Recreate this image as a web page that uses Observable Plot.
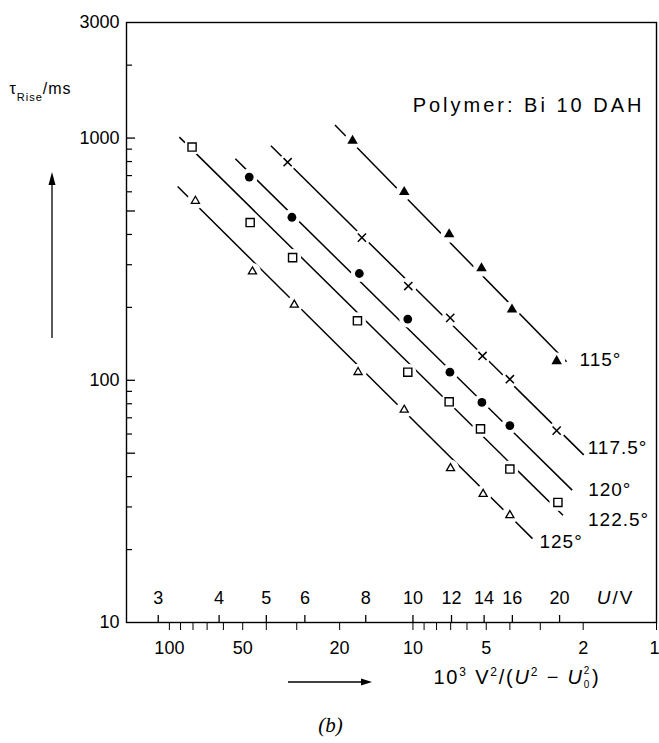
<!DOCTYPE html>
<html><head><meta charset="utf-8">
<script src="https://cdn.jsdelivr.net/npm/d3@7"></script>
<script src="https://cdn.jsdelivr.net/npm/@observablehq/plot@0.6"></script>
<style>
html,body{margin:0;padding:0;background:#fff;}
#chart{width:659px;height:743px;}
</style></head><body><div id="chart"></div>
<script>
// ---------- data ----------
const temps = ["115°", "117.5°", "120°", "122.5°", "125°"];

// x = 10^3 V^2/(U^2 - U0^2), y = tau_rise / ms
const x115 = [17.7, 10.86, 7.10, 5.23, 3.92, 2.57];
const y115 = [975, 599, 401, 290, 196, 120];
const x117 = [32.7, 16.2, 10.45, 7.03, 5.18, 4.0, 2.57];
const y117 = [795, 388, 245, 181, 126, 101, 62];
const x120 = [47.0, 31.4, 16.6, 10.5, 7.05, 5.21, 4.0];
const y120 = [690, 471, 276, 179, 108, 81, 65];
const x122 = [80.7, 46.6, 31.2, 16.9, 10.5, 7.1, 5.28, 4.0, 2.54];
const y122 = [918, 448, 321, 176, 108, 81.5, 63, 43, 31.3];
const x125 = [78.2, 45.6, 30.7, 16.8, 10.86, 7.01, 5.15, 4.0];
const y125 = [550, 281, 205, 108, 75.5, 43.3, 33.9, 27.7];

// fitted straight lines (end points)
const fitXStart = [20.9, 38.3, 53.6, 91.0, 92.5];
const fitYStart = [1132, 929, 821, 1009, 631];
const fitXEnd   = [2.34, 1.99, 2.22, 2.42, 3.23];
const fitYEnd   = [119.3, 49.2, 35.2, 27.7, 22.2];

// axis ticks
const xMajor = [100, 50, 20, 10, 5, 2, 1];
const xMinor = [90, 80, 70, 60, 40, 30, 9, 8, 7, 6, 4, 3];
const yMajor = [10, 50, 100, 500, 1000, 3000];
const yMinor = [20, 30, 40, 60, 70, 80, 90, 200, 300, 400, 600, 700, 800, 900, 2000];
const uTicks = [3, 4, 5, 6, 8, 10, 12, 14, 16, 20];   // U / V, at 10^3/U^2

// ---------- layout / style ----------
const W = 659, H = 743, mL = 126, mR = 3, mT = 22, mB = 121;
const FW = W - mL - mR, FH = H - mT - mB;
const FONT = "Liberation Sans, Arial, sans-serif";
const labelOffsets = [[13, -2], [4, -7], [16, 0], [25, 5], [7, 3]];

const markerStyles = [
  {symbol: "triangle", r: 3.9, fill: "black", stroke: "none"},
  {symbol: "times", r: 3.8, fill: "none", stroke: "black", strokeWidth: 1.5},
  {symbol: "circle", r: 4.4, fill: "black", stroke: "none"},
  {symbol: "square", r: 4.6, fill: "white", stroke: "black", strokeWidth: 1.4},
  {symbol: "triangle", r: 3.0, fill: "white", stroke: "black", strokeWidth: 1.3}
];

const xsAll = [x115, x117, x120, x122, x125];
const ysAll = [y115, y117, y120, y122, y125];
const seriesPts = xsAll.map((xs, k) => xs.map((x, i) => ({x, y: ysAll[k][i], t: temps[k]})));
const allPts = seriesPts.flat();
const fits = temps.map((t, k) => ({t, xa: fitXStart[k], ya: fitYStart[k], xb: fitXEnd[k], yb: fitYEnd[k]}));
const lastMajor = xMajor[xMajor.length - 1];

const marks = [
  Plot.frame({stroke: "black", strokeWidth: 1.4}),
  // y axis labels + inward ticks
  Plot.axisY({ticks: yMajor, tickSize: 0, tickPadding: 7, label: null, tickFormat: d => String(d), fontSize: 18}),
  Plot.tickY(yMajor.filter(d => d > 10 && d < 3000), {y: d => d, insetRight: FW - 9, stroke: "black", strokeWidth: 1.3}),
  Plot.tickY(yMinor, {y: d => d, insetRight: FW - 6, stroke: "black", strokeWidth: 1.2}),
  // bottom axis
  Plot.axisX({ticks: xMajor.concat(xMinor), tickSize: 8, tickPadding: 11, label: null,
    tickFormat: d => (xMajor.includes(d) && d !== lastMajor) ? String(d) : "", fontSize: 18}),
  Plot.text([lastMajor], {x: d => d, frameAnchor: "bottom", textAnchor: "end", dx: 3, dy: 19,
    lineAnchor: "top", text: d => String(d), fontSize: 18}),
  // U/V axis ticks drawn inside along bottom edge
  Plot.tickX(uTicks, {x: u => 1000 / (u * u), insetTop: FH - 7, stroke: "black", strokeWidth: 1.3}),
  Plot.text(uTicks, {x: u => 1000 / (u * u), frameAnchor: "bottom", dy: -19, text: d => String(d), fontSize: 18}),
  // fitted lines
  Plot.link(fits, {x1: "xa", y1: "ya", x2: "xb", y2: "yb", stroke: "black", strokeWidth: 1.5}),
  // white halos cutting the lines at the markers
  Plot.dot(allPts, {x: "x", y: "y", r: 8.5, fill: "white", stroke: "none"}),
  ...seriesPts.map((pts, k) => Plot.dot(pts, {x: "x", y: "y", ...markerStyles[k]})),
  // curve labels
  ...fits.map((f, k) => Plot.text([f], {x: "xb", y: "yb", text: "t", textAnchor: "start",
    dx: labelOffsets[k][0], dy: labelOffsets[k][1], fontSize: 19})),
  // annotation texts
  Plot.text(["Polymer: Bi 10 DAH"], {text: d => d, frameAnchor: "top-right", textAnchor: "end", dx: -12, dy: 75, fontSize: 20}),
  Plot.text(["YLABEL"], {text: d => d, frameAnchor: "top-left", textAnchor: "start", dx: 9 - mL, dy: 60, fontSize: 16}),
  Plot.text(["XLABEL"], {text: d => d, frameAnchor: "bottom-right", textAnchor: "end", dx: 600 - (W - mR), dy: 61.5, fontSize: 20}),
  Plot.text(["UVLABEL"], {text: d => d, frameAnchor: "bottom-right", textAnchor: "end", dx: 634 - (W - mR), dy: -18.5, fontSize: 19}),
  Plot.text(["(b)"], {text: d => d, frameAnchor: "bottom", dx: 330 - (mL + FW / 2), dy: 109,
    fontFamily: "Liberation Serif, Times New Roman, serif", fontStyle: "italic", fontSize: 21})
];

const svg = Plot.plot({
  width: W, height: H,
  marginLeft: mL, marginRight: mR, marginTop: mT, marginBottom: mB,
  style: {fontFamily: FONT, fontSize: "18px", color: "black", background: "white"},
  x: {type: "log", domain: [150, 1]},
  y: {type: "log", domain: [10, 3000]},
  marks
});

// ---------- rich text & decorations ----------
const s = d3.select(svg);
function findText(str) {
  return s.selectAll("text").filter(function() { return this.textContent === str; });
}
findText("YLABEL").each(function() {
  this.innerHTML = 'τ<tspan font-size="11" dy="7.5">Rise</tspan><tspan dy="-7.5">/ms</tspan>';
  this.setAttribute("letter-spacing", "1");
});
findText("XLABEL").each(function() {
  this.innerHTML =
    '10<tspan font-size="12" dy="-8">3</tspan><tspan dy="8"> V</tspan>' +
    '<tspan font-size="12" dy="-8">2</tspan><tspan dy="8">/(</tspan>' +
    '<tspan font-style="italic">U</tspan><tspan font-size="12" dy="-8">2</tspan>' +
    '<tspan dy="8"> − </tspan><tspan font-style="italic">U</tspan>' +
    '<tspan font-size="10" dy="-10">2</tspan><tspan font-size="10" dx="-7.5" dy="14">0</tspan>' +
    '<tspan dy="-4" dx="1">)</tspan>';
  this.setAttribute("letter-spacing", "1.8");
});
findText("UVLABEL").each(function() {
  this.innerHTML = '<tspan font-style="italic">U</tspan>/V';
  this.setAttribute("letter-spacing", "2");
});
findText("Polymer: Bi 10 DAH").attr("letter-spacing", "3");
temps.forEach(t => findText(t).attr("letter-spacing", "1"));

const deco = s.append("g");
// upward arrow beside the y axis
const ax = mL - 74;
deco.append("line").attr("x1", ax).attr("x2", ax).attr("y1", mT + 316).attr("y2", mT + 160)
  .attr("stroke", "black").attr("stroke-width", 1.3);
deco.append("path").attr("d", `M${ax},${mT + 150} L${ax - 3.5},${mT + 163} L${ax + 3.5},${mT + 163} Z`).attr("fill", "black");
// rightward arrow below the x axis
const ay = H - mB + 60;
deco.append("line").attr("x1", 288).attr("x2", 364).attr("y1", ay).attr("y2", ay)
  .attr("stroke", "black").attr("stroke-width", 1.3);
deco.append("path").attr("d", `M372,${ay} L361,${ay - 3.5} L361,${ay + 3.5} Z`).attr("fill", "black");

document.getElementById("chart").appendChild(svg);
</script>
</body></html>
